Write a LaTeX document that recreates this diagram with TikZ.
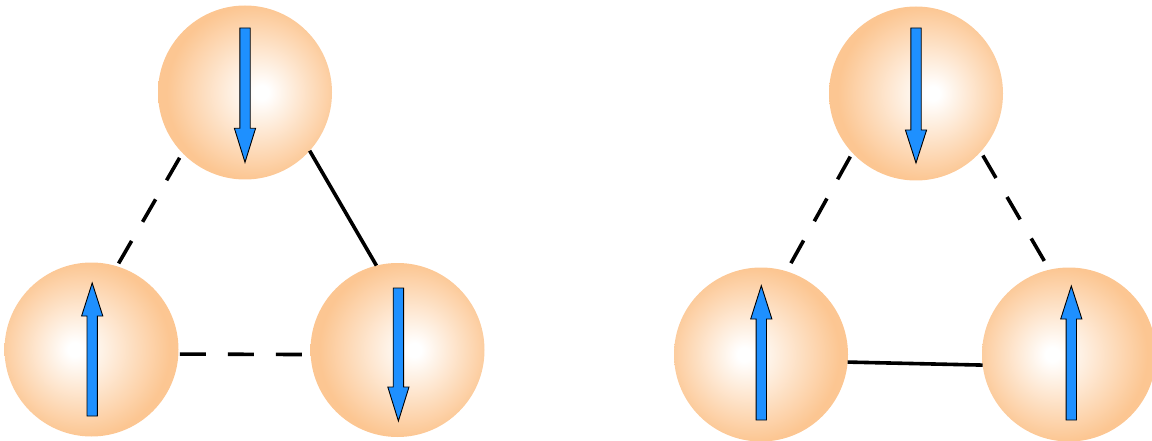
\documentclass[tikz,border=0pt]{standalone}
\definecolor{sphorange}{RGB}{252,198,146}
\definecolor{spinblue}{RGB}{30,144,255}
% soft spheres: white highlight shifted to one side, orange rim
\pgfdeclareradialshading{glowright}{\pgfpoint{5bp}{0bp}}{color(0bp)=(white); color(2bp)=(white); color(25bp)=(sphorange); color(50bp)=(sphorange)}
\pgfdeclareradialshading{glowleft}{\pgfpoint{-5bp}{0bp}}{color(0bp)=(white); color(2bp)=(white); color(25bp)=(sphorange); color(50bp)=(sphorange)}
% block arrow: centre x, tail y, head base y, tip y
\newcommand\spinarrow[4]{%
  \draw[spin] (#1-5.2,#2) -- (#1+5.2,#2) -- (#1+5.2,#3) -- (#1+10.6,#3)
    -- (#1,#4) -- (#1-10.6,#3) -- (#1-5.2,#3) -- cycle;}
\begin{document}
\begin{tikzpicture}[x=1pt,y=-1pt,
  sphere/.style={circle, minimum size=174pt, inner sep=0pt, outer sep=0pt},
  bond/.style={line width=3.6pt, draw=black},
  weakbond/.style={bond, dash pattern=on 26pt off 22pt},
  spin/.style={draw=black, line width=0.9pt, fill=spinblue, line join=miter}]
\useasboundingbox (0,0) rectangle (1152,441);
\clip (0,0) rectangle (1152,441);

% left triangle
\node[sphere, shading=glowright] (t1) at (245,92.5) {};
\node[sphere, shading=glowleft]  (a1) at (91.5,349.5) {};
\node[sphere, shading=glowright] (b1) at (397.5,350) {};
\draw[weakbond, shorten <=5.6pt, shorten >=1.5pt] (t1.224) -- (a1.73);
\draw[bond] (t1.318) -- (b1.104);
\draw[weakbond, shorten <=1.6pt, shorten >=6.6pt] (a1.-3) -- (b1.183);
\spinarrow{245}{28}{128.3}{162.3}
\spinarrow{92.2}{416}{316}{283}
\spinarrow{398.4}{288}{387}{421}

% right triangle
\node[sphere, shading=glowright] (t2) at (916,93.5) {};
\node[sphere, shading=glowleft]  (c1) at (761,354.5) {};
\node[sphere, shading=glowleft]  (d1) at (1069,354.5) {};
\draw[weakbond, shorten <=4.3pt, shorten >=3pt] (t2.223.5) -- (c1.73.9);
\draw[weakbond, shorten <=4.4pt, shorten >=5pt] (t2.318.3) -- (d1.103.8);
\draw[bond] (c1.-5.4) -- (d1.187.2);
\spinarrow{916}{28}{130}{163}
\spinarrow{761.3}{420}{319}{285.7}
\spinarrow{1071.3}{420}{319}{286}
\end{tikzpicture}
\end{document}
